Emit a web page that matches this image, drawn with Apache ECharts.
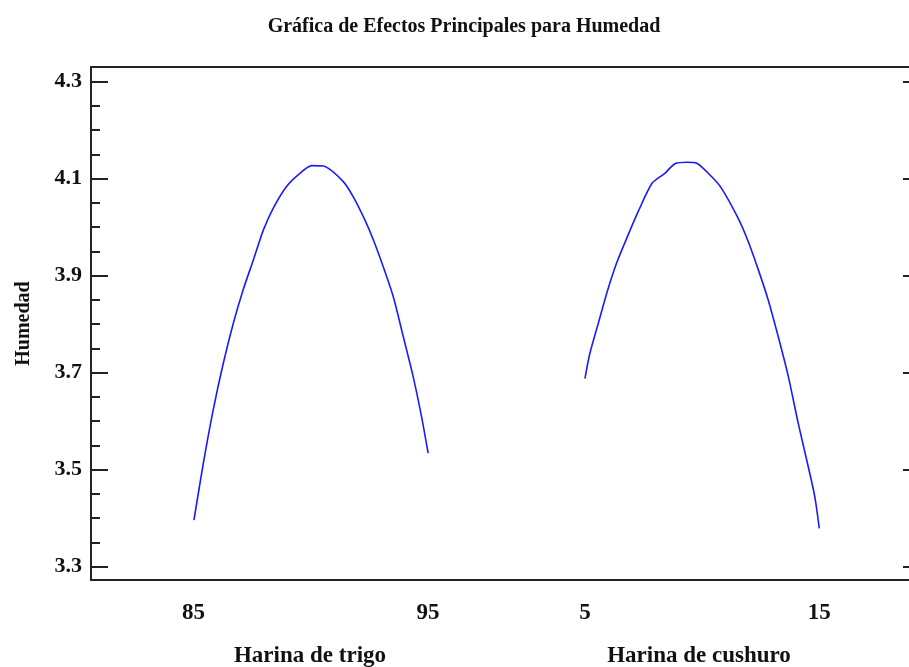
<!DOCTYPE html>
<html>
<head>
<meta charset="utf-8">
<script src="https://cdn.jsdelivr.net/npm/echarts@6/dist/echarts.min.js"></script>
<style>
html,body{margin:0;padding:0;background:#fff;}
#c{width:909px;height:667px;}
</style>
</head>
<body>
<div id="c"></div>
<script>
// ---- data ----
var chartTitle = 'Gráfica de Efectos Principales para Humedad';
var yName = 'Humedad';
var factor1Name = 'Harina de trigo';
var factor2Name = 'Harina de cushuro';
var yMajorTicks = [3.3, 3.5, 3.7, 3.9, 4.1, 4.3];
var yMinorTicks = [3.35, 3.4, 3.45, 3.55, 3.6, 3.65, 3.75, 3.8, 3.85, 3.95, 4.0, 4.05, 4.15, 4.2, 4.25];
var factor1Ticks = [85, 95];
var factor2Ticks = [5, 15];
// Harina de trigo (x) vs Humedad (y)
var trigoX = [85.02, 85.42, 85.84, 86.27, 86.70, 87.12, 87.55, 87.98, 88.40, 88.97, 89.54, 90.04, 90.54, 91.39, 91.81, 92.31, 92.67, 93.09, 93.52, 93.95, 94.37, 94.73, 95.01];
var trigoY = [3.396, 3.513, 3.623, 3.719, 3.802, 3.871, 3.932, 3.994, 4.039, 4.084, 4.111, 4.127, 4.126, 4.094, 4.063, 4.015, 3.974, 3.919, 3.857, 3.774, 3.692, 3.609, 3.534];
// Harina de cushuro (x) vs Humedad (y)
var cushuroX = [5.00, 5.21, 5.57, 5.93, 6.35, 6.78, 7.27, 7.87, 8.41, 8.84, 9.34, 9.77, 10.41, 10.83, 11.54, 11.97, 12.40, 12.82, 13.25, 13.68, 14.10, 14.53, 14.81, 15.00];
var cushuroY = [3.688, 3.740, 3.802, 3.864, 3.926, 3.977, 4.032, 4.091, 4.111, 4.131, 4.134, 4.132, 4.104, 4.080, 4.018, 3.970, 3.912, 3.850, 3.774, 3.692, 3.596, 3.506, 3.444, 3.379];

function zip(a, b) { return a.map(function (v, i) { return [v, b[i]]; }); }

var FONT = '"Liberation Serif", "DejaVu Serif", serif';
var INK = '#111';
var yMin = 3.2726, yMax = 4.3303;

var chart = echarts.init(document.getElementById('c'), null, {renderer: 'canvas'});

var frameLine = {show: true, lineStyle: {color: '#222', width: 2}};
function xAxisBottom(grid, mn, mx, ticks) {
  return {
    type: 'value', gridIndex: grid, position: 'bottom', min: mn, max: mx,
    axisLine: frameLine, axisTick: {show: false}, splitLine: {show: false},
    axisLabel: {customValues: ticks, color: INK, fontFamily: FONT, fontWeight: 'bold', fontSize: 23, margin: 22,
      formatter: function (v) { return String(v); }}
  };
}
function xAxisTop(grid, mn, mx) {
  return {
    type: 'value', gridIndex: grid, position: 'top', min: mn, max: mx,
    axisLine: frameLine, axisTick: {show: false}, splitLine: {show: false}, axisLabel: {show: false}
  };
}

var option = {
  animation: false,
  backgroundColor: '#fff',
  title: [
    {text: chartTitle, left: 459, top: 12, textAlign: 'center',
      textStyle: {fontFamily: FONT, fontWeight: 'bold', fontSize: 20, color: INK}},
    {text: factor1Name, left: 305, top: 640, textAlign: 'center',
      textStyle: {fontFamily: FONT, fontWeight: 'bold', fontSize: 23, color: INK}},
    {text: factor2Name, left: 694, top: 640, textAlign: 'center',
      textStyle: {fontFamily: FONT, fontWeight: 'bold', fontSize: 23, color: INK}}
  ],
  grid: [
    {left: 91, top: 67, width: 415, height: 513, outerBoundsMode: 'none', containLabel: false},
    {left: 506, top: 67, width: 407, height: 513, outerBoundsMode: 'none', containLabel: false}
  ],
  xAxis: [
    xAxisBottom(0, 80.63, 98.33, factor1Ticks),
    xAxisBottom(1, 1.63, 19.0, factor2Ticks),
    xAxisTop(0, 80.63, 98.33),
    xAxisTop(1, 1.63, 19.0)
  ],
  yAxis: [
    {
      type: 'value', gridIndex: 0, position: 'left', min: yMin, max: yMax,
      name: yName, nameLocation: 'middle', nameRotate: 90, nameGap: 57,
      nameTextStyle: {fontFamily: FONT, fontWeight: 'bold', fontSize: 20, color: INK},
      axisLine: frameLine,
      axisTick: {show: true, inside: true, length: 17, customValues: yMajorTicks, lineStyle: {color: '#222', width: 2}},
      axisLabel: {customValues: yMajorTicks, color: INK, fontFamily: FONT, fontWeight: 'bold', fontSize: 22, margin: 9,
        formatter: function (v) { return v.toFixed(1); }},
      splitLine: {show: false}
    },
    {
      type: 'value', gridIndex: 0, position: 'left', min: yMin, max: yMax,
      axisLine: {show: false},
      axisTick: {show: true, inside: true, length: 9, customValues: yMinorTicks, lineStyle: {color: '#222', width: 2}},
      axisLabel: {show: false}, splitLine: {show: false}
    },
    {
      type: 'value', gridIndex: 1, position: 'right', min: yMin, max: yMax,
      axisLine: frameLine,
      axisTick: {show: true, inside: true, length: 10, customValues: yMajorTicks, lineStyle: {color: '#222', width: 2}},
      axisLabel: {show: false}, splitLine: {show: false}
    }
  ],
  series: [
    {type: 'line', xAxisIndex: 0, yAxisIndex: 0, data: zip(trigoX, trigoY), showSymbol: false, smooth: 0.25,
      lineStyle: {color: '#1a1aff', width: 1.6}},
    {type: 'line', xAxisIndex: 1, yAxisIndex: 2, data: zip(cushuroX, cushuroY), showSymbol: false, smooth: 0.25,
      lineStyle: {color: '#1a1aff', width: 1.6}}
  ]
};
chart.setOption(option);
</script>
</body>
</html>
